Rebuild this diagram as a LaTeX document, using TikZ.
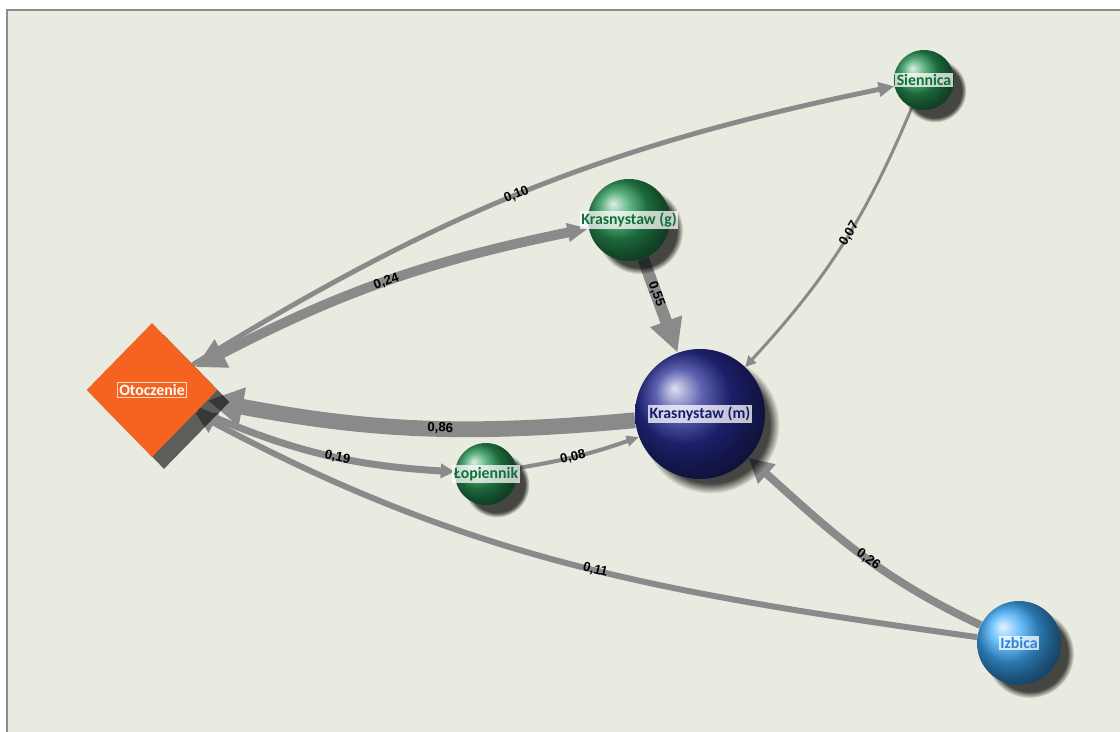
\documentclass[tikz,border=0pt]{standalone}
\usepackage{fontspec}
\newfontfamily\nodefont{Carlito}
\newfontfamily\flowfont{Liberation Sans}
\usetikzlibrary{arrows.meta,shapes.geometric,shadows}

\definecolor{panelbg}{RGB}{234,235,224}
\definecolor{panelrule}{RGB}{140,140,140}
\definecolor{flowgray}{RGB}{138,138,138}
\definecolor{otoorange}{RGB}{245,99,32}
\definecolor{gminagreen}{RGB}{40,150,85}
\definecolor{miastonavy}{RGB}{40,45,150}
\definecolor{izbicablue}{RGB}{60,170,250}
\definecolor{greentext}{RGB}{20,110,55}
\definecolor{navytext}{RGB}{25,25,110}
\definecolor{bluetext}{RGB}{40,130,220}

\pgfdeclarelayer{panel}
\pgfdeclarelayer{flows}
\pgfsetlayers{panel,flows,main}

\tikzset{
    ballnode/.style={circle, minimum size=#1, inner sep=0pt, shading=ball,
        circular drop shadow={shadow xshift=0.2cm, shadow yshift=-0.2cm,
            shadow scale=1.06, fill=black, opacity=0.7}},
    tag/.style={font=\nodefont\bfseries\fontsize{9}{10}\selectfont, text=#1,
        fill=white, fill opacity=0.75, text opacity=1, inner sep=1pt},
    flow/.style={draw=flowgray, line width=#1},
    elab/.style={font=\flowfont\bfseries\fontsize{7.5}{8}\selectfont,
        inner sep=0.5pt, sloped, text=black}
}

\begin{document}
\begin{tikzpicture}
    \useasboundingbox (0,0) rectangle (22.4,14.64);
    \begin{pgfonlayer}{panel}
        \fill[white] (0,0) rectangle (22.4,14.64);
        \filldraw[draw=panelrule, fill=panelbg, line width=0.8pt] (0.14,-1) rectangle (23,14.44);
    \end{pgfonlayer}

    % Nodes
    \node[diamond, minimum width=2.62cm, minimum height=2.68cm, inner sep=0pt,
        fill=otoorange, drop shadow={shadow xshift=0.24cm, shadow yshift=-0.24cm,
        fill=black, opacity=0.6}] at (3.04, 6.84) (oto) {};
    \node[ballnode=1.2cm, ball color=gminagreen] at (18.48, 13.04) (sie) {};
    \node[ballnode=1.64cm, ball color=gminagreen] at (12.58, 10.24) (kg) {};
    \node[ballnode=2.6cm, ball color=miastonavy] at (14.00, 6.36) (km) {};
    \node[ballnode=1.24cm, ball color=gminagreen] at (9.72, 5.16) (lop) {};
    \node[ballnode=1.68cm, ball color=izbicablue] at (20.38, 1.78) (izb) {};

    % Tags
    \node[font=\nodefont\bfseries\fontsize{9}{10}\selectfont, text=white,
        draw=white!75!otoorange, line width=0.6pt, inner sep=1pt] at (oto) (otoT) {Otoczenie};
    \node[tag=greentext] at (sie) (sieT) {Siennica};
    \node[tag=greentext] at (kg) (kgT) {Krasnystaw (g)};
    \node[tag=navytext] at (km) (kmT) {Krasnystaw (m)};
    \node[tag=greentext] at (lop) (lopT) {Łopiennik};
    \node[tag=bluetext] at (izb) (izbT) {Izbica};

    % Edges
    \begin{pgfonlayer}{flows}
        \draw[flow=2.8pt, -{Triangle[length=9pt,width=8pt]}] (oto) to[bend left=10]
            node[pos=0.48, elab] (w1) {0,10} (sie);
        \draw[flow=5.6pt, {Triangle[length=17pt,width=17pt]}-{Triangle[length=12pt,width=10pt]}]
            (oto) to[bend left=8] node[pos=0.5, elab] (w2) {0,24} (kg);
        \draw[flow=6.8pt, -{Triangle[length=19pt,width=18pt]}] (kg) --
            node[pos=0.38, elab] (w3) {0,55} (km);
        \draw[flow=1.7pt, -{Triangle[length=6pt,width=6pt]}] (sie) to[bend left=10]
            node[pos=0.45, elab] (w4) {0,07} (km);
        \draw[flow=9pt, -{Triangle[length=20pt,width=21pt]}] (km) to[bend left=8]
            node[pos=0.45, elab] (w5) {0,86} (oto);
        \draw[flow=4pt, -{Triangle[length=8pt,width=8pt]}] (oto) to[bend right=10]
            node[pos=0.56, elab] (w6) {0,19} (lop);
        \draw[flow=2.3pt, -{Triangle[length=7pt,width=6pt]}] (lop) to[bend right=5]
            node[pos=0.45, elab] (w7) {0,08} (km);
        \draw[flow=3.4pt, -{Triangle[length=12pt,width=12pt]}] (izb) to[out=172, in=-28]
            node[pos=0.47, elab] (w8) {0,11} (oto);
        \draw[flow=4.5pt, -{Triangle[length=14pt,width=14pt]}] (izb) to[out=155, in=-42]
            node[pos=0.45, elab] (w9) {0,26} (km);
    \end{pgfonlayer}
\end{tikzpicture}
\end{document}
